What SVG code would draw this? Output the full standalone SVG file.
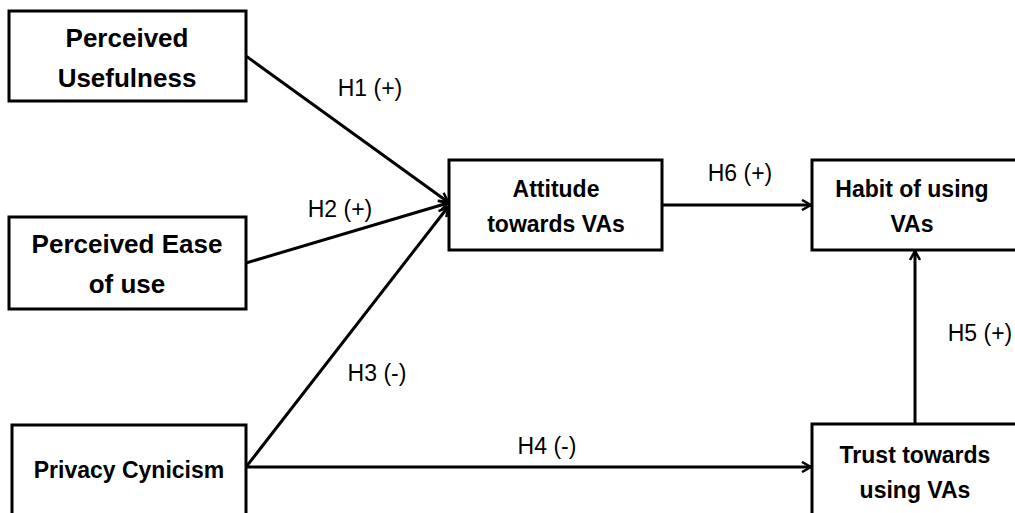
<svg xmlns="http://www.w3.org/2000/svg" width="1015" height="513" viewBox="0 0 1015 513">
<defs>
<style>
.box{fill:#fff;stroke:#000;stroke-width:3}
.t{font-family:"Liberation Sans",Arial,sans-serif;font-weight:bold;fill:#000;text-anchor:middle}
.big{font-size:26px}
.sm{font-size:23px}
.lbl{font-family:"Liberation Sans",Arial,sans-serif;font-size:23px;fill:#000;text-anchor:middle}
.c{stroke:#000;stroke-width:3;fill:none;marker-end:url(#ah)}
</style>
<marker id="ah" viewBox="0 0 12 12" refX="11" refY="6" markerWidth="12" markerHeight="12" markerUnits="userSpaceOnUse" orient="auto">
<path d="M2,1 L11,6 L2,11" fill="none" stroke="#000" stroke-width="2.5"/>
</marker>
</defs>
<rect width="1015" height="513" fill="#fff"/>
<g id="connectors">
<line class="c" x1="246" y1="56" x2="448" y2="202"/>
<line class="c" x1="246" y1="263" x2="448" y2="203"/>
<line class="c" x1="246" y1="467" x2="448" y2="207"/>
<line class="c" x1="246" y1="467" x2="811" y2="467"/>
<line class="c" x1="915" y1="424" x2="915" y2="251"/>
<line class="c" x1="662" y1="205" x2="811" y2="205"/>
<text class="lbl" x="370" y="96">H1 (+)</text>
<text class="lbl" x="340" y="217">H2 (+)</text>
<text class="lbl" x="377" y="381">H3 (-)</text>
<text class="lbl" x="547" y="454">H4 (-)</text>
<text class="lbl" x="980" y="341">H5 (+)</text>
<text class="lbl" x="740" y="181">H6 (+)</text>
</g>
<g id="pu">
<rect class="box" x="9" y="11" width="237" height="90"/>
<text class="t big" x="127" y="47">Perceived</text>
<text class="t big" x="127" y="87">Usefulness</text>
</g>
<g id="peou">
<rect class="box" x="9" y="217" width="237" height="92"/>
<text class="t big" x="127" y="253">Perceived Ease</text>
<text class="t big" x="127" y="293">of use</text>
</g>
<g id="att">
<rect class="box" x="449" y="160" width="213" height="90"/>
<text class="t sm" x="556" y="197">Attitude</text>
<text class="t sm" x="556" y="232">towards VAs</text>
</g>
<g id="habit">
<rect class="box" x="812" y="160" width="215" height="90"/>
<text class="t sm" x="912" y="197">Habit of using</text>
<text class="t sm" x="912" y="232">VAs</text>
</g>
<g id="pc">
<rect class="box" x="12" y="425" width="234" height="100"/>
<text class="t sm" x="129" y="478">Privacy Cynicism</text>
</g>
<g id="trust">
<rect class="box" x="812" y="424" width="215" height="100"/>
<text class="t sm" x="915" y="463">Trust towards</text>
<text class="t sm" x="915" y="498">using VAs</text>
</g>
</svg>
